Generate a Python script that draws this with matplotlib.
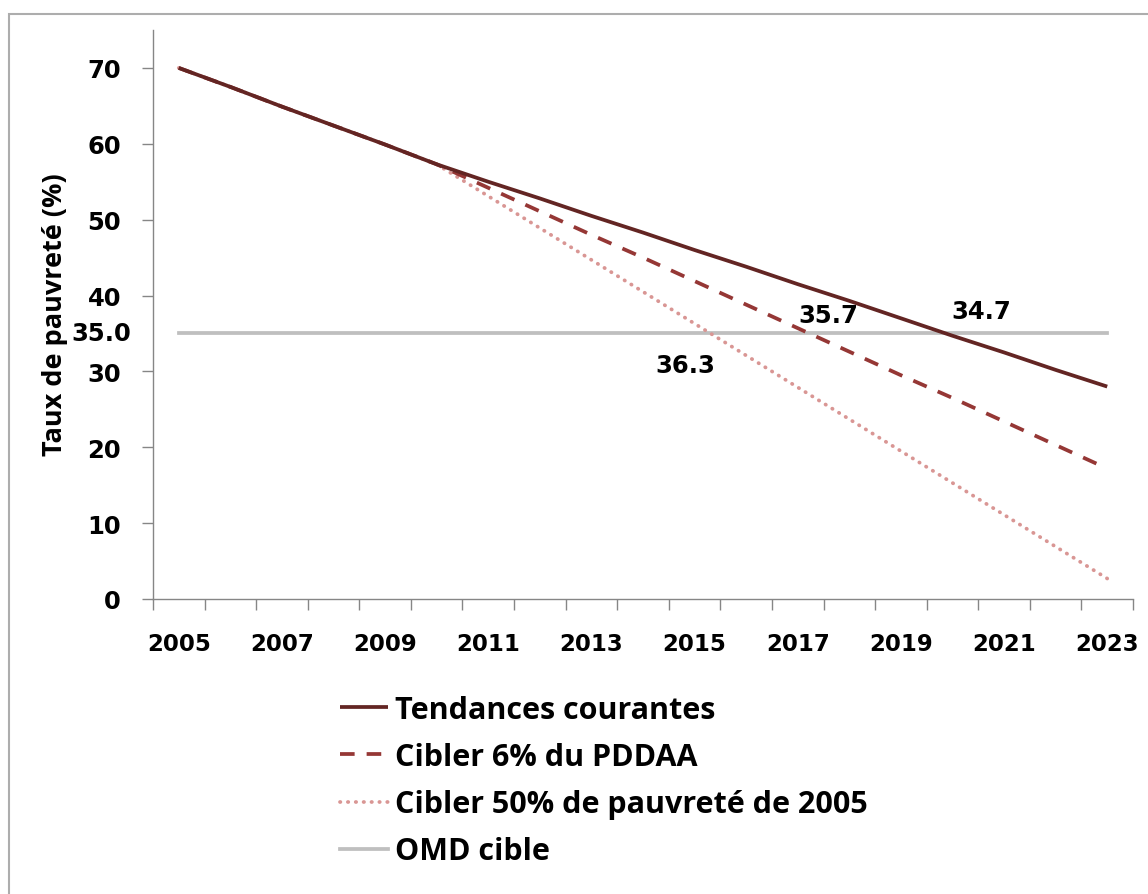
import matplotlib
matplotlib.use("Agg")
import matplotlib.pyplot as plt
import numpy as np
from matplotlib.patches import Rectangle
from matplotlib.ticker import FixedLocator, NullFormatter

# données
annees = list(range(2005, 2024))
tendances = [70.0, 67.5, 64.9, 62.4, 59.9, 57.3, 55.0, 52.8, 50.5, 48.3,
             46.0, 43.8, 41.5, 39.3, 37.0, 34.7, 32.5, 30.2, 28.0]
pddaa = [70.0, 67.5, 64.9, 62.4, 59.9, 57.3, 54.2, 51.1, 48.0, 45.0,
         41.9, 38.8, 35.7, 32.6, 29.5, 26.5, 23.4, 20.3, 17.2]
cible50 = [70.0, 67.5, 64.9, 62.4, 59.9, 57.3, 53.1, 48.9, 44.7, 40.5,
           36.3, 32.1, 27.9, 23.7, 19.5, 15.3, 11.1, 6.9, 2.7]
omd = [35.0] * len(annees)

noms = ["Tendances courantes", "Cibler 6% du PDDAA",
        "Cibler 50% de pauvreté de 2005", "OMD cible"]

num_font = "DejaVu Sans"
txt_font = "Open Sans"

fig = plt.figure(figsize=(11.48, 8.95), dpi=100)
ax = fig.add_axes([153 / 1148, 1 - 600 / 895, (1133 - 153) / 1148, (600 - 31) / 895])

x = np.arange(len(annees))
l1, = ax.plot(x, tendances, color="#632523", lw=2.7, solid_capstyle="butt", zorder=4)
l2, = ax.plot(x, pddaa, color="#953735", lw=2.7, linestyle=(0, (3.9, 3.2)), zorder=3)
l3, = ax.plot(x, cible50, color="#D99694", lw=2.7, linestyle=(0, (0.1, 2.0)),
              dash_capstyle="round", zorder=2)
l4, = ax.plot(x, omd, color="#BFBFBF", lw=2.7, zorder=1)

ax.set_xlim(-0.5, len(annees) - 0.5)
ax.set_ylim(0, 75)

# axe des catégories : traits entre les années, étiquettes une année sur deux
ax.xaxis.set_major_locator(FixedLocator(np.arange(-0.5, len(annees), 1.0)))
ax.xaxis.set_major_formatter(NullFormatter())
ax.xaxis.set_minor_locator(FixedLocator(x[::2]))
ax.set_xticklabels([str(a) for a in annees[::2]], minor=True)
ax.tick_params(axis="x", which="major", direction="out", length=8, width=1, color="#868686")
ax.tick_params(axis="x", which="minor", length=0, pad=24)
ax.set_yticks(range(0, 71, 10))
ax.tick_params(axis="y", direction="out", length=8, width=1, color="#868686", pad=15)

for lab in ax.get_xticklabels(minor=True):
    lab.set_fontfamily(num_font)
    lab.set_fontweight("bold")
    lab.set_fontsize(16.5)
for lab in ax.get_yticklabels():
    lab.set_fontfamily(num_font)
    lab.set_fontweight("bold")
    lab.set_fontsize(17.5)

for s in ["top", "right"]:
    ax.spines[s].set_visible(False)
for s in ["left", "bottom"]:
    ax.spines[s].set_color("#868686")
    ax.spines[s].set_linewidth(1)

fig.text(55 / 1148, 1 - 315 / 895, "Taux de pauvreté (%)", rotation=90,
         ha="center", va="center", fontfamily=txt_font, fontweight="bold", fontsize=19.5)

# étiquettes de données
lbl = dict(fontfamily=num_font, fontweight="bold", fontsize=17.5,
           textcoords="offset points", ha="center", va="center")
ax.annotate("35.0", (0, omd[0]), xytext=(-56, 0), **lbl)
ax.annotate("36.3", (10, cible50[10]), xytext=(-7, -30), **lbl)
ax.annotate("35.7", (12, pddaa[12]), xytext=(22, 9.5), **lbl)
ax.annotate("34.7", (15, tendances[15]), xytext=(21, 18), **lbl)

leg = ax.legend([l1, l2, l3, l4], noms, loc="upper left",
                bbox_to_anchor=(340 / 1148, 1 - 696 / 895), bbox_transform=fig.transFigure,
                frameon=False, borderpad=0, borderaxespad=0, handlelength=1.57,
                handletextpad=0.22, labelspacing=0.56,
                prop=dict(family=txt_font, weight="bold", size=22))

# cadre extérieur
fig.add_artist(Rectangle((9 / 1148, -0.1), 1.2, 1.1 - 15 / 895, transform=fig.transFigure,
                         fill=False, edgecolor="#ADADAD", lw=1.5, clip_on=False))

fig.savefig("out.png", dpi=100, facecolor="white")
